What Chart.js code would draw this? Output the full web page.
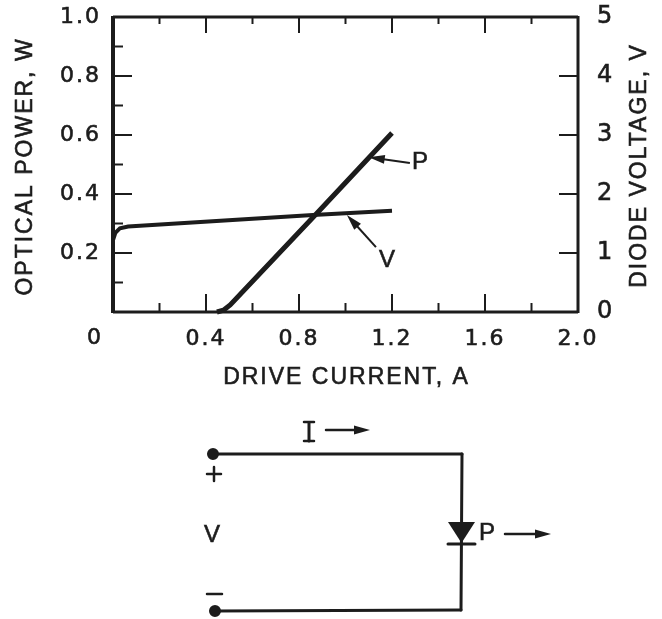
<!DOCTYPE html>
<html>
<head>
<meta charset="utf-8">
<style>
  html, body { margin: 0; padding: 0; background: #fff; }
  canvas { display: block; }
</style>
<script src="https://cdn.jsdelivr.net/npm/chart.js@4"></script>
</head>
<body>
<canvas id="myChart" width="662" height="619"></canvas>
<script>
const currentP = [0.447, 0.475, 0.504, 0.88, 1.2];
const powerP = [0, 0.006, 0.024, 0.337, 0.607];
const currentV = [0, 0.01, 0.03, 0.065, 0.86, 1.2];
const voltageV = [1.22, 1.34, 1.42, 1.45, 1.644, 1.717];

const currentMajor = [0, 0.4, 0.8, 1.2, 1.6, 2.0];
const currentMinor = [0.2, 0.6, 1.0, 1.4, 1.8];
const powerMajor = [0.2, 0.4, 0.6, 0.8];
const powerMinor = [0.1, 0.3, 0.5, 0.7, 0.9];
const voltMajor = [1, 2, 3, 4];

const xTitle = 'DRIVE CURRENT, A';
const yTitle = 'OPTICAL POWER, W';
const y1Title = 'DIODE VOLTAGE, V';

// curve callouts: [label, labelX, labelY, tailX, tailY, tipX, tipY] in axis units
const calloutP = ['P', 1.325, 0.508, 1.277, 0.505, 1.10, 0.525];
const calloutV = ['V', 1.183, 0.176, 1.131, 0.22, 1.006, 0.329];

const INK = '#1c1c1c';
const SANS = '"Liberation Sans", sans-serif';
const DEJA = '"DejaVu Sans", sans-serif';

function pairs(xs, ys) {
  return xs.map((x, i) => ({ x: x, y: ys[i] }));
}

function arrow(ctx, x1, y1, x2, y2, lw) {
  const a = Math.atan2(y2 - y1, x2 - x1);
  const len = 16, half = 4.5;
  ctx.strokeStyle = INK;
  ctx.fillStyle = INK;
  ctx.lineWidth = lw;
  ctx.beginPath();
  ctx.moveTo(x1, y1);
  ctx.lineTo(x2 - Math.cos(a) * len * 0.7, y2 - Math.sin(a) * len * 0.7);
  ctx.stroke();
  ctx.beginPath();
  ctx.moveTo(x2, y2);
  ctx.lineTo(x2 - Math.cos(a) * len + Math.sin(a) * half, y2 - Math.sin(a) * len - Math.cos(a) * half);
  ctx.lineTo(x2 - Math.cos(a) * len - Math.sin(a) * half, y2 - Math.sin(a) * len + Math.cos(a) * half);
  ctx.closePath();
  ctx.fill();
}

function seg(ctx, x1, y1, x2, y2, lw) {
  ctx.strokeStyle = INK;
  ctx.lineWidth = lw;
  ctx.beginPath();
  ctx.moveTo(x1, y1);
  ctx.lineTo(x2, y2);
  ctx.stroke();
}

function heavyText(ctx, text, x, y) {
  ctx.strokeStyle = INK;
  ctx.lineWidth = 0.6;
  ctx.fillStyle = INK;
  ctx.fillText(text, x, y);
  ctx.strokeText(text, x, y);
}

function drawFrame(chart) {
  const ctx = chart.ctx;
  const a = chart.chartArea;
  const sx = chart.scales.x, sy = chart.scales.y, sv = chart.scales.y1;
  ctx.save();
  ctx.lineCap = 'butt';
  // frame, left side heavier like the original
  seg(ctx, a.left, a.top - 1, a.left, a.bottom + 1, 4);
  seg(ctx, a.left, a.top, a.right, a.top, 3);
  seg(ctx, a.left, a.bottom, a.right, a.bottom, 3);
  seg(ctx, a.right, a.top - 1, a.right, a.bottom + 1, 3);
  currentMajor.slice(1, -1).forEach(v => {
    const x = sx.getPixelForValue(v);
    seg(ctx, x, a.top, x, a.top + 16, 2);
    seg(ctx, x, a.bottom, x, a.bottom - 18, 2);
  });
  currentMinor.forEach(v => {
    const x = sx.getPixelForValue(v);
    seg(ctx, x, a.top, x, a.top + 7, 2);
    seg(ctx, x, a.bottom, x, a.bottom - 9, 2);
  });
  powerMajor.forEach(v => {
    const y = sy.getPixelForValue(v);
    seg(ctx, a.left, y, a.left + 19, y, 2);
  });
  powerMinor.forEach(v => {
    const y = sy.getPixelForValue(v);
    seg(ctx, a.left, y, a.left + 10, y, 2);
  });
  voltMajor.forEach(v => {
    const y = sv.getPixelForValue(v);
    seg(ctx, a.right, y, a.right - 19, y, 2);
  });
  ctx.restore();
}

function drawCallout(chart, c) {
  const ctx = chart.ctx;
  const sx = chart.scales.x, sy = chart.scales.y;
  arrow(ctx, sx.getPixelForValue(c[3]), sy.getPixelForValue(c[4]),
    sx.getPixelForValue(c[5]), sy.getPixelForValue(c[6]), 2);
  ctx.font = '24px ' + SANS;
  ctx.textAlign = 'center';
  ctx.textBaseline = 'middle';
  heavyText(ctx, c[0], sx.getPixelForValue(c[1]), sy.getPixelForValue(c[2]));
}

function rotatedTitle(ctx, text, x, y) {
  ctx.save();
  ctx.translate(x, y);
  ctx.rotate(-Math.PI / 2);
  heavyText(ctx, text, 0, 0);
  ctx.restore();
}

function drawCircuit(ctx) {
  ctx.fillStyle = INK;
  ctx.lineCap = 'round';
  seg(ctx, 213, 454, 462, 454, 3);
  seg(ctx, 462, 454, 461, 610, 3);
  seg(ctx, 215, 611, 461, 610, 3);
  ctx.beginPath();
  ctx.arc(213, 454, 6, 0, Math.PI * 2);
  ctx.arc(215, 611, 6, 0, Math.PI * 2);
  ctx.fill();
  // diode
  ctx.beginPath();
  ctx.moveTo(448, 522);
  ctx.lineTo(475, 522);
  ctx.lineTo(461.5, 543);
  ctx.closePath();
  ctx.fill();
  seg(ctx, 448, 544, 475, 544, 3);
  // I, with serifs
  seg(ctx, 309, 423, 309, 441, 3);
  seg(ctx, 304, 422, 314, 422, 2.5);
  seg(ctx, 304, 441, 314, 441, 2.5);
  arrow(ctx, 326, 430, 370, 430, 2.5);
  arrow(ctx, 505, 534, 551, 534, 2.5);
  // plus and minus
  seg(ctx, 207, 474, 221, 474, 2.5);
  seg(ctx, 214, 467, 214, 481, 2.5);
  seg(ctx, 207, 594, 222, 594, 2.5);
  ctx.font = '24px ' + SANS;
  ctx.textAlign = 'center';
  ctx.textBaseline = 'middle';
  heavyText(ctx, 'V', 213, 535);
  heavyText(ctx, 'P', 488, 533);
}

const figurePlugin = {
  id: 'figure',
  beforeDraw(chart) {
    chart.ctx.letterSpacing = '2px';
  },
  afterDraw(chart) {
    const ctx = chart.ctx;
    const sx = chart.scales.x;
    const a = chart.chartArea;
    ctx.save();
    drawFrame(chart);
    drawCallout(chart, calloutP);
    drawCallout(chart, calloutV);
    // the origin label sits left of the corner
    ctx.font = '22px ' + DEJA;
    ctx.textAlign = 'center';
    ctx.textBaseline = 'middle';
    heavyText(ctx, '0', sx.getPixelForValue(0) - 18, 338);
    // axis titles here so they get the same weight; Chart.js would also flip the right one
    ctx.font = '23px ' + SANS;
    heavyText(ctx, xTitle, (a.left + a.right) / 2 + 1, 378);
    rotatedTitle(ctx, yTitle, 26, (a.top + a.bottom) / 2 + 2);
    rotatedTitle(ctx, y1Title, 640, (a.top + a.bottom) / 2 + 1);
    ctx.restore();
    ctx.save();
    drawCircuit(ctx);
    ctx.restore();
  }
};

function dropPadding(s) {
  s.paddingTop = 0;
  s.paddingBottom = 0;
  s.paddingLeft = 0;
  s.paddingRight = 0;
}

const config = {
  type: 'scatter',
  data: {
    datasets: [
      { label: 'P', data: pairs(currentP, powerP), yAxisID: 'y', showLine: true, borderColor: INK, borderWidth: 5, pointRadius: 0, clip: false },
      { label: 'V', data: pairs(currentV, voltageV), yAxisID: 'y1', showLine: true, borderColor: INK, borderWidth: 4, pointRadius: 0, clip: false }
    ]
  },
  options: {
    responsive: false,
    animation: false,
    devicePixelRatio: 1,
    layout: { padding: { top: 17, bottom: 227, left: 0, right: 0 } },
    plugins: { legend: { display: false }, tooltip: { enabled: false } },
    scales: {
      x: {
        type: 'linear', min: 0, max: 2,
        afterBuildTicks: s => { s.ticks = currentMajor.map(v => ({ value: v })); },
        afterFit: s => { s.height = 80; dropPadding(s); },
        grid: { drawOnChartArea: false, drawTicks: false },
        border: { display: false },
        ticks: {
          color: INK, padding: 14, maxRotation: 0, autoSkip: false,
          textStrokeColor: INK, textStrokeWidth: 0.6,
          font: { family: DEJA, size: 22 },
          callback: v => (v === 0 ? '' : v.toFixed(1))
        }
      },
      y: {
        position: 'left', min: 0, max: 1,
        ticks: {
          stepSize: 0.2, color: INK, padding: 12,
          textStrokeColor: INK, textStrokeWidth: 0.6,
          font: { family: DEJA, size: 22 },
          callback: v => (v === 0 ? '' : v.toFixed(1))
        },
        afterFit: s => { s.width = 113; dropPadding(s); },
        grid: { drawOnChartArea: false, drawTicks: false },
        border: { display: false }
      },
      y1: {
        position: 'right', min: 0, max: 5,
        ticks: {
          stepSize: 1, color: INK, padding: 19,
          textStrokeColor: INK, textStrokeWidth: 0.6,
          font: { family: DEJA, size: 24 },
          callback: v => String(v)
        },
        afterFit: s => { s.width = 84; dropPadding(s); },
        grid: { drawOnChartArea: false, drawTicks: false },
        border: { display: false }
      }
    }
  },
  plugins: [figurePlugin]
};

new Chart(document.getElementById('myChart'), config);
</script>
</body>
</html>
